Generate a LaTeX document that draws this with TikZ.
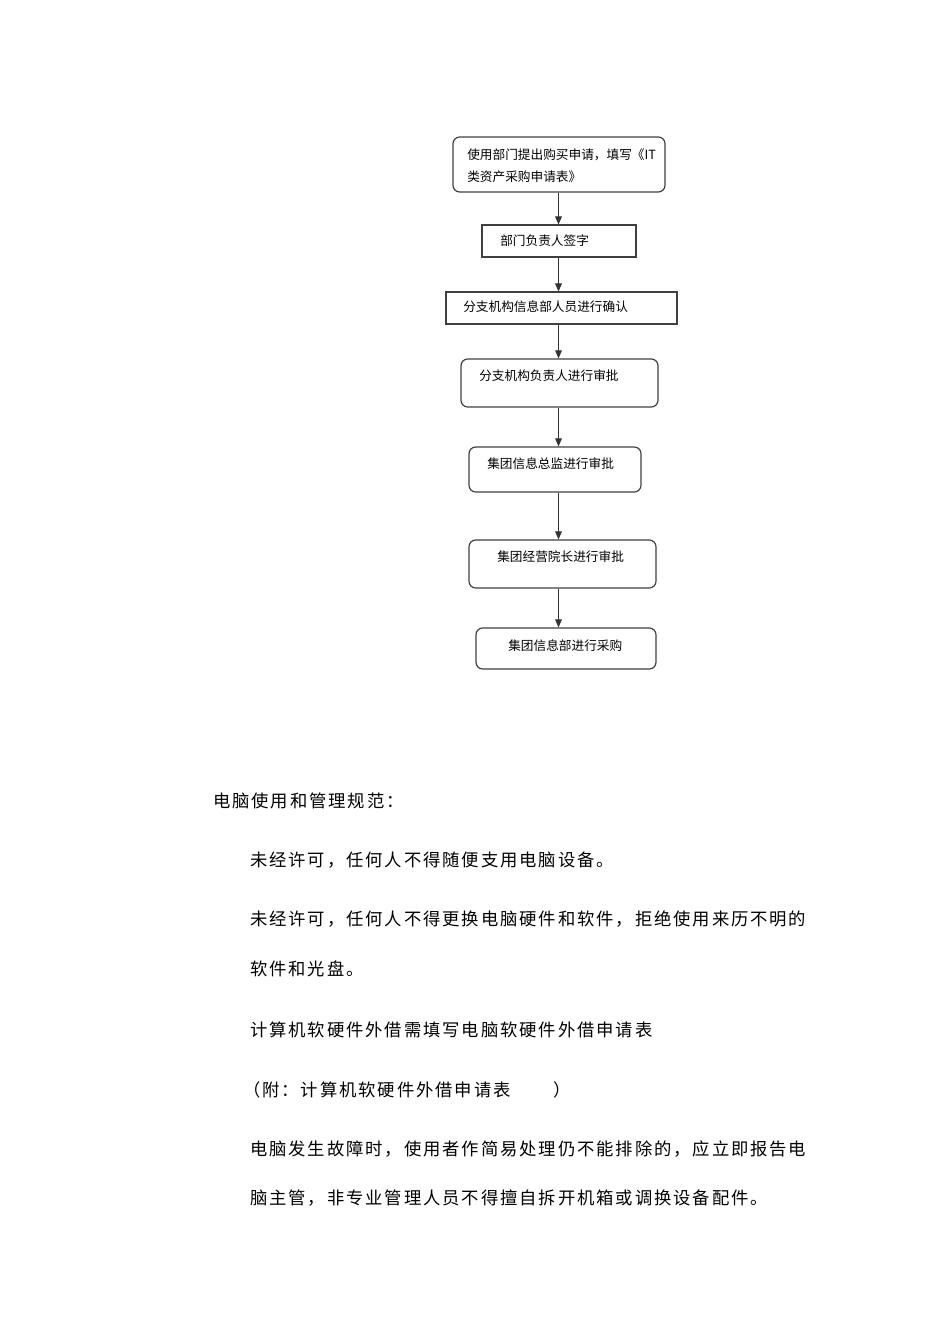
\documentclass[tikz,border=0pt]{standalone}
\usepackage{fontspec}
\newfontfamily\cjk{Noto Sans CJK SC}
\newfontfamily\cjkbody[LetterSpace=11]{Noto Sans CJK SC}
\usetikzlibrary{arrows.meta}
\begin{document}
\begin{tikzpicture}[x=0.75pt,y=-0.75pt,
  rbox/.style={draw=black!75,line width=0.9pt,rounded corners=5pt},
  sbox/.style={draw=black!75,line width=0.8pt},
  btext/.style={anchor=west,inner sep=0pt,font=\cjk\fontsize{9.5pt}{12pt}\selectfont,text=black},
  body/.style={anchor=west,inner sep=0pt,font=\cjkbody\fontsize{13pt}{16pt}\selectfont,text=black},
  arr/.style={draw=black!80,line width=0.8pt,-{Triangle[length=6pt,width=5pt]}}]
\useasboundingbox (0,0) rectangle (950,1344);
% boxes
\node[rbox,minimum width=212*0.75pt,minimum height=55*0.75pt,inner sep=0pt] (b1) at (559,164.5) {};
\node[sbox,minimum width=154*0.75pt,minimum height=32*0.75pt,inner sep=0pt] (b2) at (559,241) {};
\node[sbox,minimum width=231*0.75pt,minimum height=32*0.75pt,inner sep=0pt] (b3) at (561.5,308) {};
\node[rbox,minimum width=197*0.75pt,minimum height=48*0.75pt,inner sep=0pt] (b4) at (559.5,383) {};
\node[rbox,minimum width=172*0.75pt,minimum height=45*0.75pt,inner sep=0pt] (b5) at (555,469.5) {};
\node[rbox,minimum width=187*0.75pt,minimum height=48*0.75pt,inner sep=0pt] (b6) at (562.5,564) {};
\node[rbox,minimum width=180*0.75pt,minimum height=41*0.75pt,inner sep=0pt] (b7) at (566,648.5) {};
% box texts
\node[btext] (t1a) at (467,155) {使用部门提出购买申请，填写《IT};
\node[btext] (t1b) at (467,177) {类资产采购申请表》};
\node[btext] (t2) at (500,241) {部门负责人签字};
\node[btext] (t3) at (463,307) {分支机构信息部人员进行确认};
\node[btext] (t4) at (479,376) {分支机构负责人进行审批};
\node[btext] (t5) at (487,464) {集团信息总监进行审批};
\node[btext] (t6) at (497,557) {集团经营院长进行审批};
\node[btext] (t7) at (508,646) {集团信息部进行采购};
% arrows
\coordinate (ax) at (558.5,0);
\draw[arr] (b1.south -| ax) -- (b2.north -| ax);
\draw[arr] (b2.south -| ax) -- (b3.north -| ax);
\draw[arr] (b3.south -| ax) -- (b4.north -| ax);
\draw[arr] (b4.south -| ax) -- (b5.north -| ax);
\draw[arr] (b5.south -| ax) -- (b6.north -| ax);
\draw[arr] (b6.south -| ax) -- (b7.north -| ax);
% body text
\node[body] (h) at (213,801) {电脑使用和管理规范：};
\node[body] (p1) at (250,860) {未经许可，任何人不得随便支用电脑设备。};
\node[body] (p2) at (250,919) {未经许可，任何人不得更换电脑硬件和软件，拒绝使用来历不明的};
\node[body] (p3) at (250,969) {软件和光盘。};
\node[body] (p4) at (250,1030) {计算机软硬件外借需填写电脑软硬件外借申请表};
\node[body] (p5) at (243,1090) {（附：计算机软硬件外借申请表};
\node[body] (p5b) at (553,1090) {）};
\node[body] (p6) at (250,1149) {电脑发生故障时，使用者作简易处理仍不能排除的，应立即报告电};
\node[body] (p7) at (250,1198) {脑主管，非专业管理人员不得擅自拆开机箱或调换设备配件。};
\end{tikzpicture}
\end{document}
